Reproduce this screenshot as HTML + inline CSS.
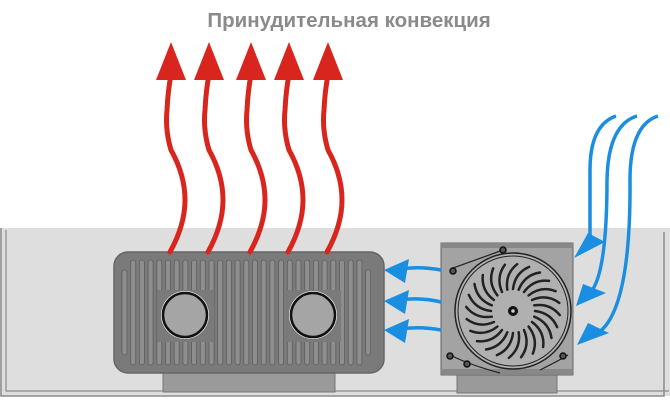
<!DOCTYPE html>
<html><head><meta charset="utf-8"><style>
html,body{margin:0;padding:0;background:#fff;width:670px;height:401px;overflow:hidden}
svg{display:block}
</style></head><body>
<svg id="s" width="670" height="401" viewBox="0 0 670 401" xmlns="http://www.w3.org/2000/svg">
<text x="349" y="27" text-anchor="middle" font-family="Liberation Sans, DejaVu Sans, sans-serif" font-size="20.5" font-weight="bold" fill="#8a8a8a">Принудительная конвекция</text>
<!-- channel -->
<rect x="0" y="228" width="670" height="168" fill="#dedede"/>
<path d="M1 228 V396 H664 V232" fill="none" stroke="#8c8c8c" stroke-width="1.5"/>
<path d="M6 230 V391 H669" fill="none" stroke="#8c8c8c" stroke-width="1.2"/>
<!-- heater stand -->
<rect x="163" y="370" width="172" height="22" fill="#9a9a9a" stroke="#777" stroke-width="1"/>
<!-- heater -->
<rect x="114" y="252" width="270" height="121" rx="14" fill="#7a7a7a" stroke="#666" stroke-width="1.5"/>
<g id="fins"></g>
<rect x="157" y="290" width="56" height="52" fill="#7a7a7a"/>
<rect x="285" y="290" width="56" height="52" fill="#7a7a7a"/>
<circle cx="185" cy="315" r="24" fill="#eee"/>
<circle cx="185" cy="315" r="22" fill="#a5a5a5" stroke="#111" stroke-width="2.5"/>
<circle cx="313" cy="315" r="24" fill="#eee"/>
<circle cx="313" cy="315" r="22" fill="#a5a5a5" stroke="#111" stroke-width="2.5"/>
<!-- fan stand -->
<rect x="457" y="373" width="100" height="20" fill="#9a9a9a" stroke="#777"/>
<!-- fan box -->
<rect x="441" y="243" width="132" height="132" fill="#a3a3a3" stroke="#666"/>
<rect x="441" y="243" width="132" height="5" fill="#888"/>
<rect x="441" y="369" width="132" height="5" fill="#888"/>
<circle cx="513" cy="311" r="58" fill="#b0b0b0" stroke="#222" stroke-width="1.5"/>
<circle cx="513" cy="311" r="55" fill="none" stroke="#222" stroke-width="1"/>
<g id="blades"></g>
<circle cx="513" cy="311" r="5" fill="#111"/><circle cx="513" cy="311" r="1.8" fill="#ccc"/>
<path d="M453 268 Q470 262 503 250" fill="none" stroke="#222" stroke-width="1.2"/>
<path d="M450 355 Q470 365 500 373 M540 370 Q560 360 568 355" fill="none" stroke="#222" stroke-width="1.2"/>
<g fill="#555" stroke="#111" stroke-width="1.5">
<circle cx="503" cy="250" r="3"/><circle cx="453" cy="271" r="3"/><circle cx="450" cy="356" r="3"/><circle cx="467" cy="364" r="3"/><circle cx="563" cy="356" r="3"/>
</g>
<!-- red arrows -->
<g id="red" fill="none" stroke="#d8261e" stroke-width="5" stroke-linecap="round"></g>
<g id="redh" fill="#d8261e"></g>
<!-- blue arrows -->
<g fill="none" stroke="#1a8ee0" stroke-width="3.5">
<path d="M441 270 Q420 266 400 269"/>
<path d="M441 302 Q420 297 400 300"/>
<path d="M441 330 Q420 326 400 329"/>
<path d="M616 116 Q590 125 590 170 L590 238"/>
<path d="M637 116 Q608 125 607 180 Q607 275 590 293"/>
<path d="M658 116 Q630 125 630 180 Q631 310 598 333"/>
</g>
<g fill="#1a8ee0">
<polygon points="384,270 409,259 405,283"/>
<polygon points="384,301 409,290 405,314"/>
<polygon points="384,330 409,319 405,343"/>
<polygon points="574,258 588,233 605,242"/>
<polygon points="576,306 583,284 606,293"/>
<polygon points="577,345 588,323 609,333"/>
</g>
</svg>
<script>
var ns="http://www.w3.org/2000/svg",f=document.getElementById('fins');
for(var i=0;i<29;i++){var x=122+i*8.7;var r=document.createElementNS(ns,'rect');
r.setAttribute('x',x);r.setAttribute('y',i==0||i==28?270:260);r.setAttribute('width',5);r.setAttribute('height',i==0||i==28?85:105);
r.setAttribute('rx',2.5);r.setAttribute('fill','#8e8e8e');r.setAttribute('stroke','#5e5e5e');r.setAttribute('stroke-width','0.8');f.appendChild(r);}
var b=document.getElementById('blades');
for(var k=0;k<24;k++){var a=k*Math.PI*2/24;var r1=22,r2=47;
var x1=513+r1*Math.cos(a),y1=311+r1*Math.sin(a),x2=513+r2*Math.cos(a+0.35),y2=311+r2*Math.sin(a+0.35);
var cx=513+38*Math.cos(a+0.05),cy=311+38*Math.sin(a+0.05);
var p=document.createElementNS(ns,'path');p.setAttribute('d','M'+x1+' '+y1+' Q'+cx+' '+cy+' '+x2+' '+y2);
p.setAttribute('stroke','#222');p.setAttribute('stroke-width','2.5');p.setAttribute('fill','none');p.setAttribute('stroke-linecap','round');b.appendChild(p);}
var xs=[171,209,251,289,328],R=document.getElementById('red'),H=document.getElementById('redh');
xs.forEach(function(x){var p=document.createElementNS(ns,'path');
p.setAttribute('d','M'+(x-1)+' 252 Q'+(x+14)+' 225 '+(x+14)+' 200 Q'+(x+14)+' 175 '+(x)+' 150 Q'+(x-6)+' 130 '+(x-4)+' 110 Q'+(x-3)+' 90 '+x+' 75');
R.appendChild(p);var h=document.createElementNS(ns,'polygon');
h.setAttribute('points',(x)+',42 '+(x-15)+',80 '+(x+15)+',80');H.appendChild(h);});
</script>
</body></html>
